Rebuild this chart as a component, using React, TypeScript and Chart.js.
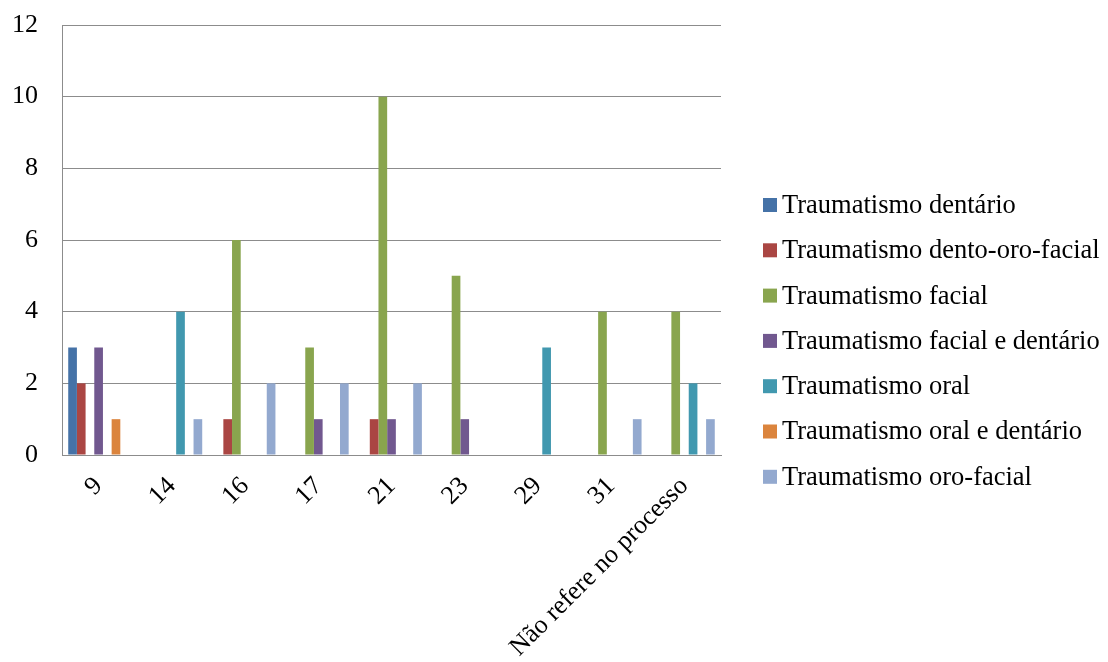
import React, { useEffect, useRef } from "react";
import { Chart, registerables } from "chart.js";

Chart.register(...registerables);

const categories = ["9", "14", "16", "17", "21", "23", "29", "31", "Não refere no processo"];

const seriesNames = [
  "Traumatismo dentário",
  "Traumatismo dento-oro-facial",
  "Traumatismo facial",
  "Traumatismo facial e dentário",
  "Traumatismo oral",
  "Traumatismo oral e dentário",
  "Traumatismo oro-facial",
];

const dentario = [3, 0, 0, 0, 0, 0, 0, 0, 0];
const dentoOroFacial = [2, 0, 1, 0, 1, 0, 0, 0, 0];
const facial = [0, 0, 6, 3, 10, 5, 0, 4, 4];
const facialDentario = [3, 0, 0, 1, 1, 1, 0, 0, 0];
const oral = [0, 4, 0, 0, 0, 0, 3, 0, 2];
const oralDentario = [1, 0, 0, 0, 0, 0, 0, 0, 0];
const oroFacial = [0, 1, 2, 2, 2, 0, 0, 1, 1];

const seriesValues = [dentario, dentoOroFacial, facial, facialDentario, oral, oralDentario, oroFacial];

const seriesColors = ["#4572A7", "#AA4643", "#89A54E", "#71588F", "#4198AF", "#DB843D", "#93A9CF"];

const yTicks = [0, 2, 4, 6, 8, 10, 12];

const FONT = "'Liberation Serif', 'Times New Roman', serif";

const legendPlugin = {
  id: "customLegend",
  afterDraw(chart: any) {
    const ctx = chart.ctx;
    ctx.save();
    ctx.font = `26.5px ${FONT}`;
    ctx.textBaseline = "middle";
    ctx.textAlign = "left";
    chart.data.datasets.forEach((ds: any, i: number) => {
      const y = 205 + i * 45.3;
      ctx.fillStyle = ds.backgroundColor;
      ctx.fillRect(763, y - 7, 14, 14);
      ctx.fillStyle = "#000";
      ctx.fillText(ds.label, 782, y + 1);
    });
    ctx.restore();
  },
};

export default function App() {
  const ref = useRef<HTMLCanvasElement>(null);
  useEffect(() => {
    if (!ref.current) return;
    const chart = new Chart(ref.current, {
      type: "bar",
      data: {
        labels: categories,
        datasets: seriesNames.map((name, i) => ({
          label: name,
          data: seriesValues[i],
          backgroundColor: seriesColors[i],
          borderWidth: 0,
          categoryPercentage: 0.83,
          barPercentage: 1,
        })),
      },
      options: {
        responsive: false,
        animation: false,
        layout: { padding: { top: 25, right: 387, bottom: 0, left: 0 } },
        plugins: { legend: { display: false }, tooltip: { enabled: false } },
        scales: {
          x: {
            grid: { display: false },
            border: { display: true, color: "#8c8c8c", width: 1 },
            ticks: {
              color: "#000",
              font: { family: FONT, size: 26 },
              autoSkip: false,
              minRotation: 45,
              maxRotation: 45,
              padding: 8,
            },
            afterFit(scale: any) {
              scale.height = 207;
              scale.paddingTop = 0;
              scale.paddingBottom = 0;
            },
          },
          y: {
            min: 0,
            max: 12,
            afterBuildTicks(scale: any) {
              scale.ticks = yTicks.map((v) => ({ value: v }));
            },
            grid: { color: "#8c8c8c", lineWidth: 1, drawTicks: false },
            border: { display: true, color: "#8c8c8c", width: 1 },
            ticks: {
              color: "#000",
              font: { family: FONT, size: 26 },
              padding: 24,
            },
            afterFit(scale: any) {
              scale.width = 62;
              scale.paddingTop = 0;
              scale.paddingBottom = 0;
            },
          },
        },
      },
      plugins: [legendPlugin],
    });
    return () => chart.destroy();
  }, []);
  return (
    <div style={{ position: "absolute", left: 0, top: 0, width: 1108, height: 662, background: "#fff" }}>
      <canvas ref={ref} width={1108} height={662} style={{ display: "block" }} />
    </div>
  );
}
